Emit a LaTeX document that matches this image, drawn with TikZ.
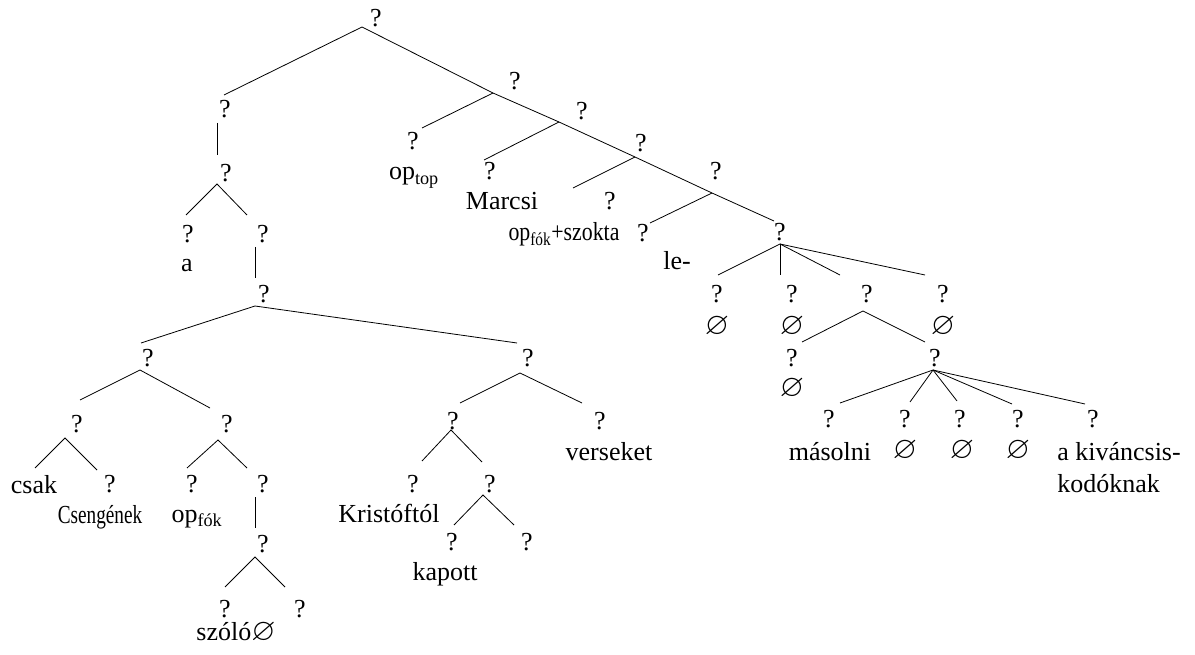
\documentclass[tikz,border=0pt]{standalone}
\usepackage{fontspec}
\setmainfont{Liberation Serif}
\usepackage{amssymb}
\usetikzlibrary{positioning}

\newcommand{\nullmark}{\scalebox{1.2}{$\varnothing$}}

\begin{document}
\begin{tikzpicture}[
    x=0.75pt, y=-0.75pt,
    font=\fontsize{19.5}{23.4}\selectfont,
    lbl/.style={anchor=base, inner sep=0pt},
    word/.style={anchor=base, inner sep=0pt},
    nul/.style={anchor=center, inner sep=0pt},
    branch/.style={line width=0.6pt}
]
    \useasboundingbox (0,0) rectangle (1195,655);

    \node[lbl] (n0) at (376,27) {?};
    \node[lbl] (n1) at (225,118) {?};
    \node[lbl] (n2) at (226,182) {?};
    \node[lbl] (n3) at (188,243) {?};
    \node[word] (wa) at (187,272) {a};
    \node[lbl] (n4) at (263,243) {?};
    \node[lbl] (n5) at (264,303) {?};
    \node[lbl] (n6) at (148,367) {?};
    \node[lbl] (n7) at (77,432) {?};
    \node[word] (wcsak) at (34,493) {csak};
    \node[lbl] (n8) at (110,492) {?};
    \node[word] (wcseng) at (100,523) {\scalebox{0.74}[1]{Csengének}};
    \node[lbl] (n9) at (227,432) {?};
    \node[lbl] (n10) at (192,492) {?};
    \node[word] (wopfok) at (197,522) {op\textsubscript{fók}};
    \node[lbl] (n11) at (263,492) {?};
    \node[lbl] (n12) at (263,552) {?};
    \node[lbl] (n13) at (225,617) {?};
    \node[word] (wszolo) at (236,640) {szóló\nullmark};
    \node[lbl] (n14) at (300,617) {?};
    \node[lbl] (n15) at (528,367) {?};
    \node[lbl] (n16) at (453,430) {?};
    \node[lbl] (n17) at (413,492) {?};
    \node[word] (wkrist) at (389,522) {Kristóftól};
    \node[lbl] (n18) at (490,492) {?};
    \node[lbl] (n19) at (452,550) {?};
    \node[word] (wkapott) at (445,580) {kapott};
    \node[lbl] (n20) at (527,550) {?};
    \node[lbl] (n21) at (600,430) {?};
    \node[word] (wvers) at (609,460) {verseket};

    \node[lbl] (m1) at (515,90) {?};
    \node[lbl] (m2) at (582,120) {?};
    \node[lbl] (m3) at (641,152) {?};
    \node[lbl] (m4) at (716,180) {?};
    \node[lbl] (m5) at (780,241) {?};
    \node[lbl] (k1) at (413,150) {?};
    \node[word] (wtop) at (414,180) {op\textsubscript{top}};
    \node[lbl] (k2) at (490,180) {?};
    \node[word] (wmarcsi) at (502,210) {Marcsi};
    \node[lbl] (k3) at (610,210) {?};
    \node[word] (wszokta) at (564,241) {\scalebox{0.84}[1]{op\textsubscript{fók}+szokta}};
    \node[lbl] (k4) at (643,242) {?};
    \node[word] (wle) at (677,270) {le-};

    \node[lbl] (c1) at (717,303) {?};
    \node[nul] (z1) at (717,327) {\nullmark};
    \node[lbl] (c2) at (792,303) {?};
    \node[nul] (z2) at (792,327) {\nullmark};
    \node[lbl] (c3) at (867,303) {?};
    \node[lbl] (c4) at (943,303) {?};
    \node[nul] (z4) at (943,327) {\nullmark};
    \node[lbl] (c5) at (792,367) {?};
    \node[nul] (z5) at (792,389) {\nullmark};
    \node[lbl] (c6) at (935,367) {?};
    \node[lbl] (d1) at (829,428) {?};
    \node[word] (wmasol) at (830,460) {másolni};
    \node[lbl] (d2) at (905,428) {?};
    \node[nul] (zd2) at (905,451) {\nullmark};
    \node[lbl] (d3) at (960,428) {?};
    \node[nul] (zd3) at (962,451) {\nullmark};
    \node[lbl] (d4) at (1018,428) {?};
    \node[nul] (zd4) at (1018,451) {\nullmark};
    \node[lbl] (d5) at (1093,428) {?};
    \node[word, anchor=base west] (wkiv1) at (1057,460) {a kiváncsis-};
    \node[word, anchor=base west] (wkiv2) at (1057,492) {kodóknak};

    \coordinate (a0) at (362,27);
    \coordinate (e1) at (224,95);
    \coordinate (a1) at (217,123);
    \coordinate (e2) at (217,155);
    \coordinate (a2) at (217,184);
    \coordinate (e3) at (186,215);
    \coordinate (e4) at (247,215);
    \coordinate (a4) at (255,247);
    \coordinate (e5) at (255,278);
    \coordinate (a5) at (255,306);
    \coordinate (e6) at (141,343);
    \coordinate (e15) at (517,343);
    \coordinate (a6) at (140,370);
    \coordinate (e7) at (80,400);
    \coordinate (e9) at (210,408);
    \coordinate (a7) at (65,438);
    \coordinate (ecsak) at (35,468);
    \coordinate (e8) at (97,470);
    \coordinate (a9) at (218,440);
    \coordinate (e10) at (187,468);
    \coordinate (e11) at (247,468);
    \coordinate (a11) at (255,497);
    \coordinate (e12) at (255,528);
    \coordinate (a12) at (255,557);
    \coordinate (e13) at (225,587);
    \coordinate (e14) at (285,587);
    \coordinate (a15) at (520,373);
    \coordinate (e16) at (460,403);
    \coordinate (e21) at (582,403);
    \coordinate (a16) at (451,430);
    \coordinate (e17) at (422,461);
    \coordinate (e18) at (482,462);
    \coordinate (a18) at (483,495);
    \coordinate (e19) at (454,525);
    \coordinate (e20) at (514,525);

    \coordinate (sp1) at (493,93);
    \coordinate (sp2) at (559,122);
    \coordinate (sp3) at (635,157);
    \coordinate (sp4) at (712,193);
    \coordinate (sp5) at (774,221);
    \coordinate (ek1) at (422,128);
    \coordinate (ek2) at (484,160);
    \coordinate (ek3) at (573,188);
    \coordinate (ek4) at (650,223);

    \coordinate (am5) at (780,244);
    \coordinate (ec1) at (718,275);
    \coordinate (ec2) at (780,275);
    \coordinate (ec3) at (840,275);
    \coordinate (ec4) at (925,275);
    \coordinate (ac3) at (863,311);
    \coordinate (ec5) at (802,342);
    \coordinate (ec6) at (925,342);
    \coordinate (ac6) at (933,370);
    \coordinate (ed1) at (840,403);
    \coordinate (ed2) at (910,402);
    \coordinate (ed3) at (957,401);
    \coordinate (ed4) at (1012,404);
    \coordinate (ed5) at (1085,404);

    \draw[branch] (e1) -- (a0) -- (sp1) -- (sp2) -- (sp3) -- (sp4) -- (sp5);
    \draw[branch] (a1) -- (e2);
    \draw[branch] (e3) -- (a2) -- (e4);
    \draw[branch] (a4) -- (e5);
    \draw[branch] (e6) -- (a5) -- (e15);
    \draw[branch] (e7) -- (a6) -- (e9);
    \draw[branch] (ecsak) -- (a7) -- (e8);
    \draw[branch] (e10) -- (a9) -- (e11);
    \draw[branch] (a11) -- (e12);
    \draw[branch] (e13) -- (a12) -- (e14);
    \draw[branch] (e16) -- (a15) -- (e21);
    \draw[branch] (e17) -- (a16) -- (e18);
    \draw[branch] (e19) -- (a18) -- (e20);

    \draw[branch] (sp1) -- (ek1);
    \draw[branch] (sp2) -- (ek2);
    \draw[branch] (sp3) -- (ek3);
    \draw[branch] (sp4) -- (ek4);

    \draw[branch] (am5) -- (ec1);
    \draw[branch] (am5) -- (ec2);
    \draw[branch] (am5) -- (ec3);
    \draw[branch] (am5) -- (ec4);
    \draw[branch] (ec5) -- (ac3) -- (ec6);
    \draw[branch] (ac6) -- (ed1);
    \draw[branch] (ac6) -- (ed2);
    \draw[branch] (ac6) -- (ed3);
    \draw[branch] (ac6) -- (ed4);
    \draw[branch] (ac6) -- (ed5);
\end{tikzpicture}
\end{document}
